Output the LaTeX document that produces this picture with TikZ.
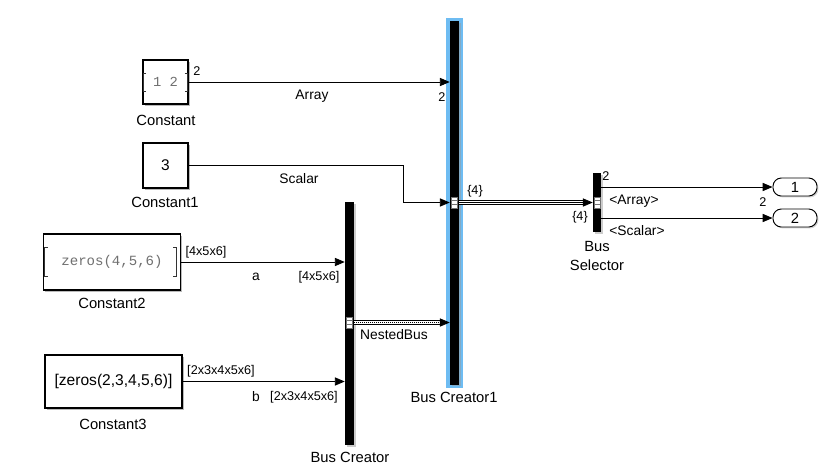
\documentclass[tikz,border=0pt]{standalone}
\usepackage{fontspec}
\setmainfont{Liberation Sans}
\newfontfamily\monofont{Liberation Mono}
\usepackage{xcolor}
\usetikzlibrary{arrows.meta,shadows}
\definecolor{SelBlue}{RGB}{110,188,242}
\definecolor{ParamGray}{RGB}{112,112,112}
\tikzset{
  sl/.style={x=0.03cm, y=-0.03cm, >={Triangle[length=8.5pt,width=7pt]}},
  blk/.style={draw, line width=0.9pt, fill=white, inner sep=0pt,
              drop shadow={shadow xshift=1.6pt, shadow yshift=-1.6pt, fill=black!45, opacity=.6}},
  bar/.style={draw=none, fill=black, inner sep=0pt, minimum width=0.27cm,
              drop shadow={shadow xshift=1.4pt, shadow yshift=-1.4pt, fill=black!40, opacity=.5}},
  selbox/.style={draw=none, fill=SelBlue, inner sep=0pt, minimum width=0.51cm, minimum height=11.1cm},
  port/.style={draw=black!55, fill=white, line width=0.4pt, inner sep=0pt, minimum width=0.18cm, minimum height=0.33cm,
               path picture={\draw[black!55, line width=0.4pt]
                 ([yshift=0.055cm]path picture bounding box.west) -- ([yshift=0.055cm]path picture bounding box.east)
                 ([yshift=-0.055cm]path picture bounding box.west) -- ([yshift=-0.055cm]path picture bounding box.east);}},
  outp/.style={draw, line width=0.8pt, fill=white, rounded corners=0.25cm, minimum width=1.32cm, minimum height=0.54cm,
               inner sep=0pt, font=\fontsize{12.6}{14}\selectfont,
               drop shadow={shadow xshift=1.2pt, shadow yshift=-1.2pt, fill=black!35, opacity=.5}},
  brk/.style={draw=black!80, line width=0.8pt},
  sig/.style={->, line width=0.8pt},
  bus/.style={->, line width=0.7pt, preaction={draw, solid, -, line width=0.7pt, double, double distance=2.2pt, shorten >=7pt}},
  nested/.style={bus, densely dotted},
  lbl/.style={inner sep=0pt, font=\fontsize{11.8}{13}\selectfont},
  dim/.style={inner sep=0pt, font=\fontsize{10.8}{12}\selectfont},
  bname/.style={inner sep=0pt, align=center, font=\fontsize{12.6}{16.2}\selectfont}
}

\begin{document}
\begin{tikzpicture}[sl]
\useasboundingbox (0,0) rectangle (831,465);
\node[blk, minimum width=1.35cm, minimum height=1.32cm, text=ParamGray, font=\monofont\fontsize{11.8}{13}\selectfont] (const) at (165.5,82) {1 2};
\node[blk, minimum width=1.35cm, minimum height=1.35cm, font=\fontsize{13.2}{15}\selectfont] (const1) at (165.5,165.5) {3};
\node[blk, minimum width=4.11cm, minimum height=1.68cm, text=ParamGray, font=\monofont\fontsize{12}{13}\selectfont] (const2) at (112,262) {zeros(4,5,6)};
\node[blk, minimum width=4.11cm, minimum height=1.59cm, font=\fontsize{13.3}{15}\selectfont] (const3) at (113.5,381.5) {[zeros(2,3,4,5,6)]};
\draw[brk] ([xshift=3.2pt,yshift=7.7pt]const.west) -- ++(-2pt,0) -- ++(0,-15.4pt) -- ++(2pt,0);
\draw[brk] ([xshift=-3.2pt,yshift=7.7pt]const.east) -- ++(2pt,0) -- ++(0,-15.4pt) -- ++(-2pt,0);
\draw[brk] ([xshift=4pt,yshift=12pt]const2.west) -- ++(-2.3pt,0) -- ++(0,-24pt) -- ++(2.3pt,0);
\draw[brk] ([xshift=-6.8pt,yshift=12pt]const2.east) -- ++(2.6pt,0) -- ++(0,-24pt) -- ++(-2.6pt,0);

\node[bar, minimum height=7.29cm] (bc) at (349.5,323.5) {};
\node[selbox] (bc1sel) at (454.5,203) {};
\node[bar, minimum height=10.89cm, drop shadow={opacity=0}] (bc1) at (bc1sel) {};
\node[bar, minimum width=0.24cm, minimum height=1.77cm] (bs) at (597,202.5) {};
\node[port] (pbc) at (349.5,322.5) {};
\node[port] (pbc1) at (454.5,202.5) {};
\node[port] (pbs) at (597,202.5) {};
\node[outp] (out1) at (795,187) {1};
\node[outp] (out2) at (795,218) {2};

\draw[sig] (const) -- (const -| bc1.west);
\draw[sig] (const1.east) -- ++(215,0) |- (pbc1 -| bc1.west);
\draw[sig] (const2.east) -- (const2.east -| bc.west);
\draw[sig] (const3) -- (const3 -| bc.west);
\draw[nested] (pbc -| bc.east) -- (pbc -| bc1.west);
\draw[bus] (pbc1 -| bc1.east) -- (pbc1 -| bs.west);
\draw[sig] (bs.east |- out1) -- (out1);
\draw[sig] (bs.east |- out2) -- (out2);

\node[bname] (nconst) at (166,120) {Constant};
\node[bname] (nconst1) at (165,202) {Constant1};
\node[bname] (nconst2) at (112,303) {Constant2};
\node[bname] (nconst3) at (113,424) {Constant3};
\node[bname] (nbc) at (350,457) {Bus Creator};
\node[bname] (nbc1) at (454,397) {Bus Creator1};
\node[bname] (nbs) at (597,255.5) {Bus\\Selector};

\node[lbl] (larray) at (312,96) {Array};
\node[lbl] (lscalar) at (299,179) {Scalar};
\node[lbl] (la) at (256,277) {a};
\node[lbl] (lb) at (256,397) {b};
\node[lbl] (lnested) at (394,335) {NestedBus};
\node[lbl] (lsarray) at (634,201) {<Array>};
\node[lbl] (lsscalar) at (637,231) {<Scalar>};

\node[dim] (dconst) at (197,71) {2};
\node[dim] (dbc1a) at (442,97) {2};
\node[dim] (dconst2) at (206,252) {[4x5x6]};
\node[dim] (dbca) at (319,277) {[4x5x6]};
\node[dim] (dconst3) at (221,371) {[2x3x4x5x6]};
\node[dim] (dbcb) at (304,397) {[2x3x4x5x6]};
\node[dim] (dbus) at (475,191) {\{4\}};
\node[dim] (dbs) at (580,217) {\{4\}};
\node[dim] (dbsout) at (606,176) {2};
\node[dim] (dout1) at (763,202) {2};
\end{tikzpicture}
\end{document}
